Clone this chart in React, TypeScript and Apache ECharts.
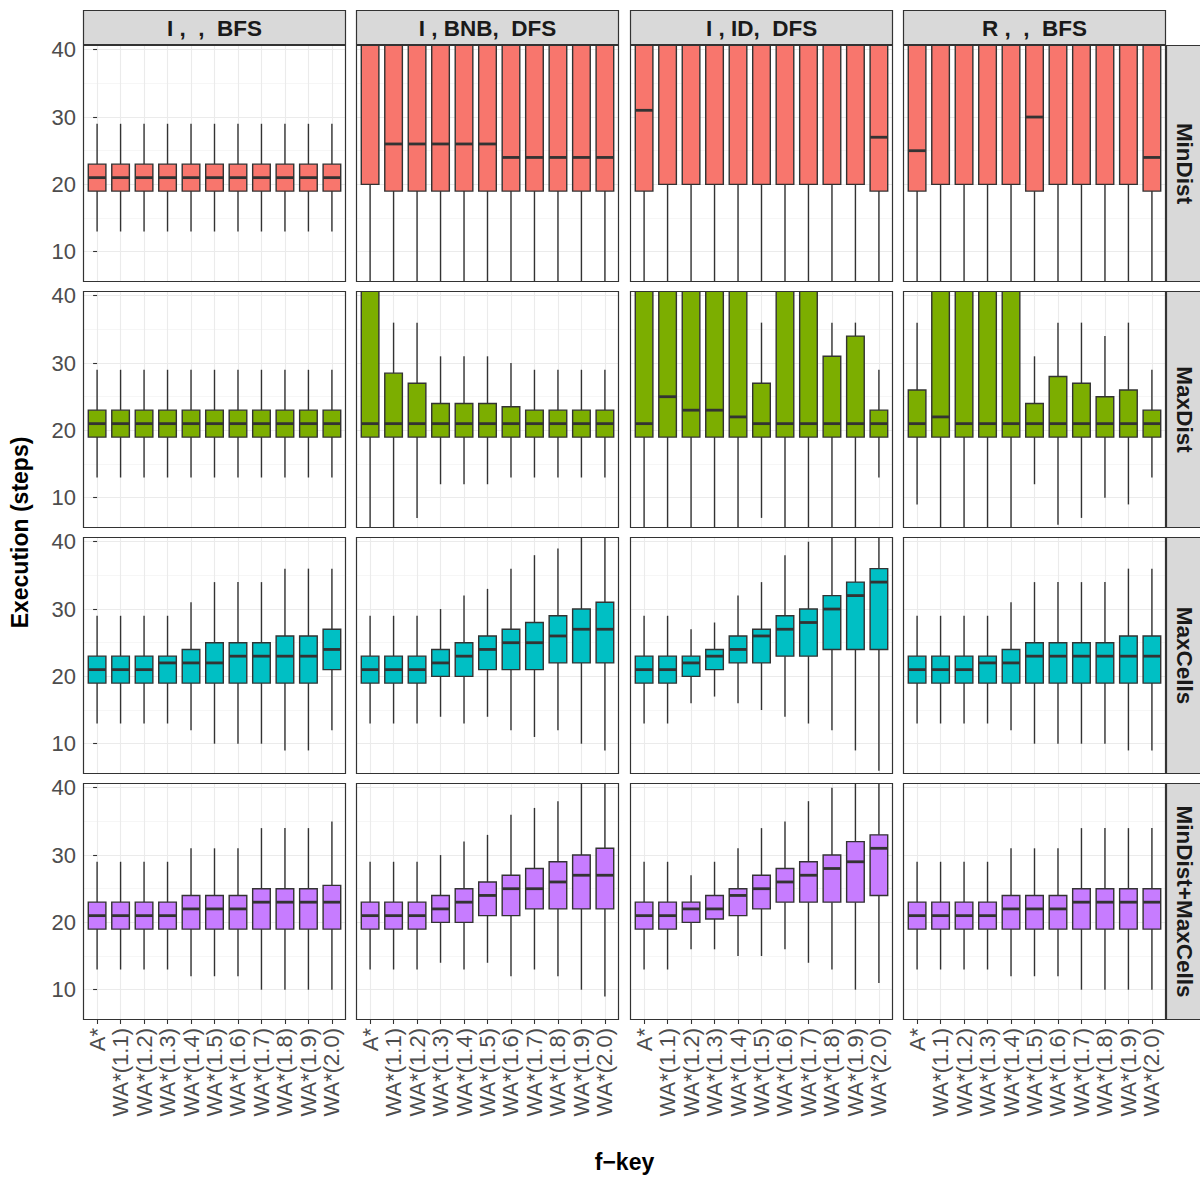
import React, { useEffect, useRef } from "react";
import * as echarts from "echarts";

// ---------------- data ----------------
const CATEGORIES = ["A*", "WA*(1.1)", "WA*(1.2)", "WA*(1.3)", "WA*(1.4)", "WA*(1.5)", "WA*(1.6)", "WA*(1.7)", "WA*(1.8)", "WA*(1.9)", "WA*(2.0)"];
const COLUMN_LABELS = ["I ,  ,  BFS", "I , BNB,  DFS", "I , ID,  DFS", "R ,  ,  BFS"];
const ROW_LABELS = ["MinDist", "MaxDist", "MaxCells", "MinDist+MaxCells"];
const ROW_COLORS = ["#F8766D", "#7CAE00", "#00BFC4", "#C77CFF"];
const Y_TICKS = [10, 20, 30, 40];
const Y_MINOR = [15, 25, 35];
const X_TITLE = "f\u2212key";
const Y_TITLE = "Execution (steps)";

// each box: [lower whisker, Q1, median, Q3, upper whisker]
const MINDIST_I_BFS = [
  [13, 19, 21, 23, 29], [13, 19, 21, 23, 29], [13, 19, 21, 23, 29], [13, 19, 21, 23, 29], [13, 19, 21, 23, 29], [13, 19, 21, 23, 29],
  [13, 19, 21, 23, 29], [13, 19, 21, 23, 29], [13, 19, 21, 23, 29], [13, 19, 21, 23, 29], [13, 19, 21, 23, 29],
];
const MINDIST_I_BNB_DFS = [
  [2, 20, 42, 44, 48], [2, 19, 26, 44, 48], [2, 19, 26, 44, 48], [2, 19, 26, 44, 48], [2, 19, 26, 44, 48], [2, 19, 26, 44, 48],
  [2, 19, 24, 44, 48], [2, 19, 24, 44, 48], [2, 19, 24, 44, 48], [2, 19, 24, 44, 48], [2, 19, 24, 44, 48],
];
const MINDIST_I_ID_DFS = [
  [2, 19, 31, 44, 48], [2, 20, 42, 44, 48], [2, 20, 42, 44, 48], [2, 20, 42, 44, 48], [2, 20, 42, 44, 48], [2, 20, 42, 44, 48],
  [2, 20, 42, 44, 48], [2, 20, 42, 44, 48], [2, 20, 42, 44, 48], [2, 20, 42, 44, 48], [2, 19, 27, 44, 48],
];
const MINDIST_R_BFS = [
  [2, 19, 25, 44, 48], [2, 20, 42, 44, 48], [2, 20, 42, 44, 48], [2, 20, 42, 44, 48], [2, 20, 42, 44, 48], [2, 19, 30, 44, 48],
  [2, 20, 42, 44, 48], [2, 20, 42, 44, 48], [2, 20, 42, 44, 48], [2, 20, 42, 44, 48], [2, 19, 24, 44, 48],
];

const MAXDIST_I_BFS = [
  [13, 19, 21, 23, 29], [13, 19, 21, 23, 29], [13, 19, 21, 23, 29], [13, 19, 21, 23, 29], [13, 19, 21, 23, 29], [13, 19, 21, 23, 29],
  [13, 19, 21, 23, 29], [13, 19, 21, 23, 29], [13, 19, 21, 23, 29], [13, 19, 21, 23, 29], [13, 19, 21, 23, 29],
];
const MAXDIST_I_BNB_DFS = [
  [2, 19, 21, 44, 48], [2, 19, 21, 28.5, 36], [7, 19, 21, 27, 36], [12, 19, 21, 24, 31], [12, 19, 21, 24, 31], [12, 19, 21, 24, 31],
  [13, 19, 21, 23.5, 30], [13, 19, 21, 23, 29], [13, 19, 21, 23, 29], [13, 19, 21, 23, 29], [13, 19, 21, 23, 29],
];
const MAXDIST_I_ID_DFS = [
  [2, 19, 21, 44, 48], [2, 19, 25, 44, 48], [2, 19, 23, 44, 48], [2, 19, 23, 44, 48], [2, 19, 22, 44, 48], [7, 19, 21, 27, 36],
  [2, 19, 21, 44, 48], [2, 19, 21, 44, 48], [2, 19, 21, 31, 36], [2, 19, 21, 34, 36], [13, 19, 21, 23, 29],
];
const MAXDIST_R_BFS = [
  [9, 19, 21, 26, 36], [2, 19, 22, 44, 48], [2, 19, 21, 44, 48], [2, 19, 21, 44, 48], [2, 19, 21, 44, 48], [12, 19, 21, 24, 31],
  [6, 19, 21, 28, 36], [7, 19, 21, 27, 36], [10, 19, 21, 25, 34], [9, 19, 21, 26, 36], [13, 19, 21, 23, 29],
];

const MAXCELLS_I_BFS = [
  [13, 19, 21, 23, 29], [13, 19, 21, 23, 29], [13, 19, 21, 23, 29], [13, 19, 22, 23, 29], [12, 19, 22, 24, 31], [10, 19, 22, 25, 34],
  [10, 19, 23, 25, 34], [10, 19, 23, 25, 34], [9, 19, 23, 26, 36], [9, 19, 23, 26, 36], [12, 21, 24, 27, 36],
];
const MAXCELLS_I_BNB_DFS = [
  [13, 19, 21, 23, 29], [13, 19, 21, 23, 29], [13, 19, 21, 23, 29], [14, 20, 22, 24, 30], [13, 20, 23, 25, 32], [14, 21, 24, 26, 33],
  [12, 21, 25, 27, 36], [11, 21, 25, 28, 38], [12, 22, 26, 29, 39], [10, 22, 27, 30, 45], [9, 22, 27, 31, 45],
];
const MAXCELLS_I_ID_DFS = [
  [13, 19, 21, 23, 29], [13, 19, 21, 23, 29], [16, 20, 22, 23, 27], [17, 21, 23, 24, 28], [16, 22, 24, 26, 32], [15, 22, 26, 27, 34],
  [14, 23, 27, 29, 38], [13, 23, 28, 30, 40], [12, 24, 30, 32, 45], [9, 24, 32, 34, 45], [6, 24, 34, 36, 45],
];
const MAXCELLS_R_BFS = [
  [13, 19, 21, 23, 29], [13, 19, 21, 23, 29], [13, 19, 21, 23, 29], [13, 19, 22, 23, 29], [12, 19, 22, 24, 31], [10, 19, 23, 25, 34],
  [10, 19, 23, 25, 34], [10, 19, 23, 25, 34], [10, 19, 23, 25, 34], [9, 19, 23, 26, 36], [9, 19, 23, 26, 36],
];

const MINMAX_I_BFS = [
  [13, 19, 21, 23, 29], [13, 19, 21, 23, 29], [13, 19, 21, 23, 29], [13, 19, 21, 23, 29], [12, 19, 22, 24, 31], [12, 19, 22, 24, 31],
  [12, 19, 22, 24, 31], [10, 19, 23, 25, 34], [10, 19, 23, 25, 34], [10, 19, 23, 25, 34], [10, 19, 23, 25.5, 35],
];
const MINMAX_I_BNB_DFS = [
  [13, 19, 21, 23, 29], [13, 19, 21, 23, 29], [13, 19, 21, 23, 29], [14, 20, 22, 24, 30], [13, 20, 23, 25, 32], [14, 21, 24, 26, 33],
  [12, 21, 25, 27, 36], [13, 22, 25, 28, 37], [12, 22, 26, 29, 38], [10, 22, 27, 30, 45], [9, 22, 27, 31, 45],
];
const MINMAX_I_ID_DFS = [
  [13, 19, 21, 23, 29], [13, 19, 21, 23, 29], [16, 20, 22, 23, 27], [16, 20.5, 22, 24, 29], [15, 21, 24, 25, 31], [15, 22, 25, 27, 34],
  [16, 23, 26, 28, 35], [14, 23, 27, 29, 38], [13, 23, 28, 30, 40], [10, 23, 29, 32, 45], [11, 24, 31, 33, 45],
];
const MINMAX_R_BFS = [
  [13, 19, 21, 23, 29], [13, 19, 21, 23, 29], [13, 19, 21, 23, 29], [13, 19, 21, 23, 29], [12, 19, 22, 24, 31], [12, 19, 22, 24, 31],
  [12, 19, 22, 24, 31], [10, 19, 23, 25, 34], [10, 19, 23, 25, 34], [10, 19, 23, 25, 34], [10, 19, 23, 25, 34],
];

const PANELS = [
  [MINDIST_I_BFS, MINDIST_I_BNB_DFS, MINDIST_I_ID_DFS, MINDIST_R_BFS],
  [MAXDIST_I_BFS, MAXDIST_I_BNB_DFS, MAXDIST_I_ID_DFS, MAXDIST_R_BFS],
  [MAXCELLS_I_BFS, MAXCELLS_I_BNB_DFS, MAXCELLS_I_ID_DFS, MAXCELLS_R_BFS],
  [MINMAX_I_BFS, MINMAX_I_BNB_DFS, MINMAX_I_ID_DFS, MINMAX_R_BFS],
];

// ---------------- layout ----------------
const COL_LEFT = [83, 356, 630, 903];
const ROW_TOP = [45, 291, 537, 783];
const PANEL_W = 263;
const PANEL_H = 237;
const Y_MIN = 5.5;
const Y_MAX = 40.7;
const X_MIN = -0.6;
const X_MAX = 10.6;
const FONT = "'Liberation Sans', Arial, Helvetica, sans-serif";
const DARK = "#333333";
const TICK_FONT = 22;
const STRIP_FONT = 22.5;
const TITLE_FONT = 23;

function buildOption() {
  const grids: any[] = [];
  const xAxes: any[] = [];
  const yAxes: any[] = [];
  const series: any[] = [];
  const graphics: any[] = [];
  const xIdx = CATEGORIES.map((_, i) => i);

  for (let r = 0; r < 4; r++) {
    for (let c = 0; c < 4; c++) {
      const idx = r * 4 + c;
      const color = ROW_COLORS[r];
      grids.push({
        left: COL_LEFT[c], top: ROW_TOP[r], width: PANEL_W, height: PANEL_H,
        show: true, backgroundColor: "#FFFFFF", borderWidth: 0,
      });
      xAxes.push({
        type: "value", gridIndex: idx, min: X_MIN, max: X_MAX,
        axisLine: { show: false },
        axisTick: { show: r === 3, customValues: xIdx, length: 4, lineStyle: { color: DARK, width: 1.1 } },
        axisLabel: {
          show: r === 3, customValues: xIdx, rotate: 90, margin: 8,
          fontSize: TICK_FONT, color: "#4D4D4D", fontFamily: FONT,
          formatter: (v: number) => CATEGORIES[Math.round(v)] ?? "",
        },
        splitLine: { show: true, lineStyle: { color: "#EBEBEB", width: 1.1 } },
      });
      yAxes.push({
        type: "value", gridIndex: idx, min: Y_MIN, max: Y_MAX, position: "left",
        axisLine: { show: false },
        axisTick: { show: c === 0, customValues: Y_TICKS, length: 4, lineStyle: { color: DARK, width: 1.1 } },
        axisLabel: {
          show: c === 0, customValues: Y_TICKS, margin: 7,
          fontSize: TICK_FONT, color: "#4D4D4D", fontFamily: FONT,
        },
        splitLine: { show: true, lineStyle: { color: "#EBEBEB", width: 1.1 } },
      });
      yAxes.push({
        type: "value", gridIndex: idx, min: Y_MIN, max: Y_MAX, position: "right",
        axisLine: { show: false },
        axisTick: { show: false, customValues: Y_MINOR },
        axisLabel: { show: false, customValues: Y_MINOR },
        splitLine: { show: true, lineStyle: { color: "#F0F0F0", width: 0.6 } },
      });
      series.push({
        type: "custom",
        xAxisIndex: idx,
        yAxisIndex: idx * 2,
        clip: true,
        data: PANELS[r][c].map((b, i) => [i, ...b]),
        encode: { x: 0, y: [1, 2, 3, 4, 5] },
        renderItem: (params: any, api: any) => {
          const x = api.value(0);
          const lo = api.coord([x, api.value(1)]);
          const q1 = api.coord([x, api.value(2)]);
          const md = api.coord([x, api.value(3)]);
          const q3 = api.coord([x, api.value(4)]);
          const hi = api.coord([x, api.value(5)]);
          const w = api.size([0.75, 0])[0];
          const cx = lo[0];
          return {
            type: "group",
            children: [
              { type: "line", shape: { x1: cx, y1: hi[1], x2: cx, y2: q3[1] }, style: { stroke: DARK, lineWidth: 1.4 } },
              { type: "line", shape: { x1: cx, y1: q1[1], x2: cx, y2: lo[1] }, style: { stroke: DARK, lineWidth: 1.4 } },
              {
                type: "rect",
                shape: { x: cx - w / 2, y: q3[1], width: w, height: q1[1] - q3[1] },
                style: { fill: color, stroke: DARK, lineWidth: 1.4 },
              },
              { type: "line", shape: { x1: cx - w / 2, y1: md[1], x2: cx + w / 2, y2: md[1] }, style: { stroke: DARK, lineWidth: 2.8 } },
            ],
          };
        },
      });
      // panel border on top
      graphics.push({
        type: "rect", z: 100, silent: true,
        shape: { x: COL_LEFT[c] + 0.5, y: ROW_TOP[r] + 0.5, width: PANEL_W - 1, height: PANEL_H - 1 },
        style: { fill: "none", stroke: DARK, lineWidth: 1.2 },
      });
    }
  }

  // top strips
  for (let c = 0; c < 4; c++) {
    graphics.push({
      type: "rect", z: 90, silent: true,
      shape: { x: COL_LEFT[c] + 0.5, y: 10.5, width: PANEL_W - 1, height: 34 },
      style: { fill: "#D9D9D9", stroke: DARK, lineWidth: 1.2 },
    });
    graphics.push({
      type: "text", z: 95, silent: true,
      x: COL_LEFT[c] + PANEL_W / 2, y: 28,
      style: {
        text: COLUMN_LABELS[c], fill: "#1A1A1A", fontSize: STRIP_FONT, fontWeight: "bold", fontFamily: FONT,
        align: "center", verticalAlign: "middle",
      },
    });
  }
  // right strips
  for (let r = 0; r < 4; r++) {
    graphics.push({
      type: "rect", z: 90, silent: true,
      shape: { x: 1166.5, y: ROW_TOP[r] + 0.5, width: 40, height: PANEL_H - 1 },
      style: { fill: "#D9D9D9", stroke: DARK, lineWidth: 1.2 },
    });
    graphics.push({
      type: "text", z: 95, silent: true,
      x: 1184, y: ROW_TOP[r] + PANEL_H / 2, rotation: -Math.PI / 2,
      style: {
        text: ROW_LABELS[r], fill: "#1A1A1A", fontSize: STRIP_FONT, fontWeight: "bold", fontFamily: FONT,
        align: "center", verticalAlign: "middle",
      },
    });
  }
  // axis titles
  graphics.push({
    type: "text", z: 95, silent: true,
    x: 20, y: (ROW_TOP[0] + ROW_TOP[3] + PANEL_H) / 2, rotation: Math.PI / 2,
    style: {
      text: Y_TITLE, fill: "#000000", fontSize: TITLE_FONT, fontWeight: "bold", fontFamily: FONT,
      align: "center", verticalAlign: "middle",
    },
  });
  graphics.push({
    type: "text", z: 95, silent: true,
    x: (COL_LEFT[0] + COL_LEFT[3] + PANEL_W) / 2, y: 1162,
    style: {
      text: X_TITLE, fill: "#000000", fontSize: TITLE_FONT, fontWeight: "bold", fontFamily: FONT,
      align: "center", verticalAlign: "middle",
    },
  });

  return {
    animation: false,
    backgroundColor: "#FFFFFF",
    textStyle: { fontFamily: FONT },
    grid: grids,
    xAxis: xAxes,
    yAxis: yAxes,
    series,
    graphic: graphics,
  };
}

export default function App() {
  const ref = useRef<HTMLDivElement>(null);
  useEffect(() => {
    if (!ref.current) return;
    const chart = echarts.init(ref.current, undefined, { renderer: "svg" });
    chart.setOption(buildOption() as any);
    return () => chart.dispose();
  }, []);
  return <div ref={ref} style={{ position: "absolute", left: 0, top: 0, width: 1200, height: 1178 }} />;
}
